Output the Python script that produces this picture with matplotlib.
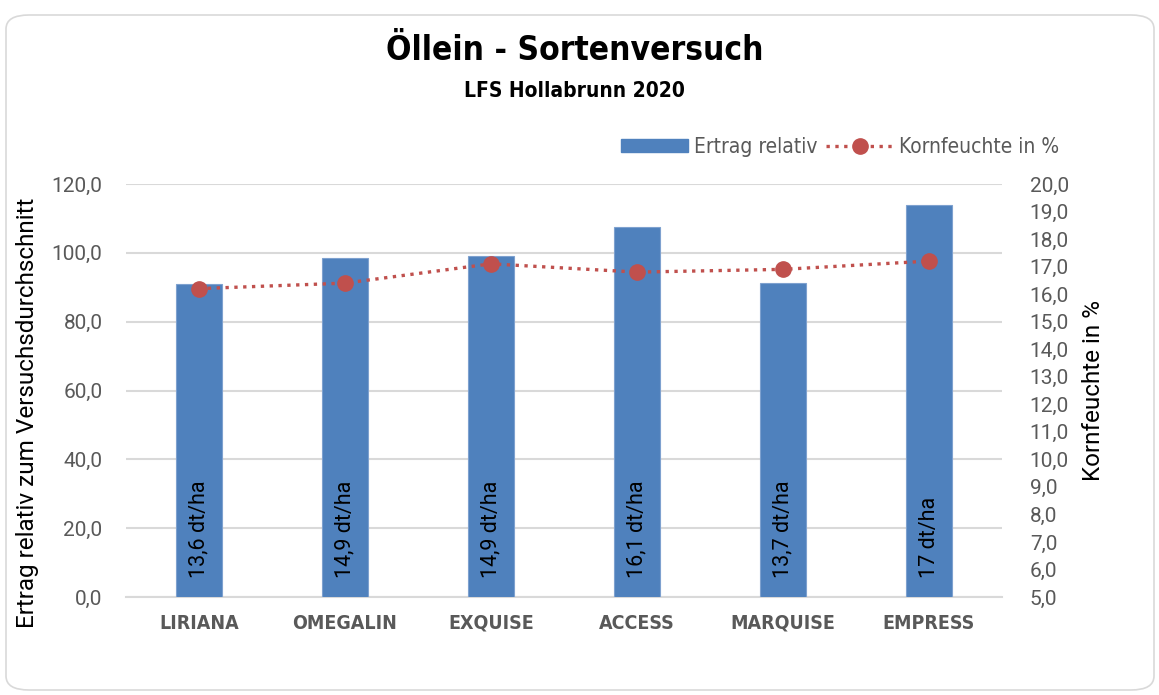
import matplotlib
matplotlib.use("Agg")
import matplotlib.pyplot as plt
from matplotlib.patches import FancyBboxPatch
from matplotlib.lines import Line2D
from matplotlib.patches import Patch
from matplotlib.ticker import MultipleLocator, FuncFormatter
from matplotlib import font_manager

sorten = ["LIRIANA", "OMEGALIN", "EXQUISE", "ACCESS", "MARQUISE", "EMPRESS"]
ertrag_relativ = [90.8, 98.5, 99.0, 107.5, 91.2, 114.0]
ertrag_labels = ["13,6 dt/ha", "14,9 dt/ha", "14,9 dt/ha", "16,1 dt/ha", "13,7 dt/ha", "17 dt/ha"]
kornfeuchte = [16.2, 16.4, 17.1, 16.8, 16.9, 17.2]

names = {f.name for f in font_manager.fontManager.ttflist}
NARROW = ["Liberation Sans Narrow"] if "Liberation Sans Narrow" in names else ["DejaVu Sans"]
ROBOTO = ["Roboto", "DejaVu Sans"]
GREY = "#595959"

fig = plt.figure(figsize=(11.59, 6.95), dpi=100, facecolor="white")

# rounded chart border
fig.patches.append(FancyBboxPatch(
    (6 / 1159, 5 / 695), 1148 / 1159, 675 / 695,
    boxstyle="round,pad=0,rounding_size=0.02",
    transform=fig.transFigure, facecolor="none", edgecolor="#d9d9d9",
    linewidth=1.2, zorder=-1))

ax = fig.add_axes([126 / 1159, 1 - 597 / 695, 876 / 1159, 413 / 695])
ax2 = ax.twinx()

x = list(range(len(sorten)))
ax.bar(x, ertrag_relativ, width=0.31, color="#4f81bd", edgecolor="#7ea1cf",
       linewidth=0.8, zorder=3)
for xi, lab in zip(x, ertrag_labels):
    ax.text(xi, 5.5, lab, rotation=90, ha="center", va="bottom",
            fontsize=15.5, color="black", family=ROBOTO, zorder=4)

ax2.plot(x, kornfeuchte, linestyle=":", color="#c0504d", linewidth=2.4,
         marker="o", markersize=11, zorder=5)

ax.set_xlim(-0.5, len(sorten) - 0.5)
ax.set_ylim(0, 120)
ax2.set_ylim(5, 20)
ax.yaxis.set_major_locator(MultipleLocator(20))
ax2.yaxis.set_major_locator(MultipleLocator(1))
comma = FuncFormatter(lambda v, p: f"{v:.1f}".replace(".", ","))
ax.yaxis.set_major_formatter(comma)
ax2.yaxis.set_major_formatter(comma)

ax.grid(axis="y", color="#d9d9d9", linewidth=1.5, zorder=0)
ax.set_axisbelow(True)
for a in (ax, ax2):
    for s in a.spines.values():
        s.set_visible(False)
ax.spines["bottom"].set_visible(True)
ax.spines["bottom"].set_color("#d9d9d9")
ax.spines["bottom"].set_linewidth(1.5)

ax.set_xticks(x)
ax.set_xticklabels(sorten, fontsize=14, color=GREY, family=NARROW,
                   fontweight="bold", fontstretch="condensed")
ax.tick_params(axis="x", length=0, pad=12)
ax.tick_params(axis="y", length=0, pad=17, labelsize=15, labelcolor=GREY)
ax2.tick_params(axis="y", length=0, pad=20, labelsize=15, labelcolor=GREY)
for t in ax.get_yticklabels() + ax2.get_yticklabels():
    t.set_family(ROBOTO)

ax.set_ylabel("Ertrag relativ zum Versuchsdurchschnitt", fontsize=17.5,
              family=ROBOTO, color="black", va="center")
ax.yaxis.set_label_coords(-0.112, 0.445)
ax2.set_ylabel("Kornfeuchte in %", fontsize=17.5, family=ROBOTO, color="black",
               va="center")
ax2.yaxis.set_label_coords(1.105, 0.5)

fig.text(0.496, 1 - 50 / 695, "Öllein - Sortenversuch", ha="center", va="center",
         fontsize=24, fontweight="bold", family=NARROW, fontstretch="condensed")
fig.text(0.496, 1 - 91 / 695, "LFS Hollabrunn 2020", ha="center", va="center",
         fontsize=15, fontweight="bold", family=NARROW, fontstretch="condensed")

handles = [Patch(facecolor="#4f81bd", edgecolor="#4f81bd"),
           Line2D([0], [0], linestyle=":", color="#c0504d", linewidth=2.4,
                  marker="o", markersize=11)]
leg = fig.legend(handles, ["Ertrag relativ", "Kornfeuchte in %"], ncol=2,
                 loc="center right", bbox_to_anchor=(1078 / 1159, 1 - 147 / 695),
                 frameon=False,
                 prop={"family": NARROW, "size": 15, "stretch": "condensed"},
                 handlelength=3.2, handleheight=0.6, columnspacing=0.4,
                 handletextpad=0.3)
for t in leg.get_texts():
    t.set_color(GREY)

fig.savefig("out.png", dpi=100, facecolor="white")
